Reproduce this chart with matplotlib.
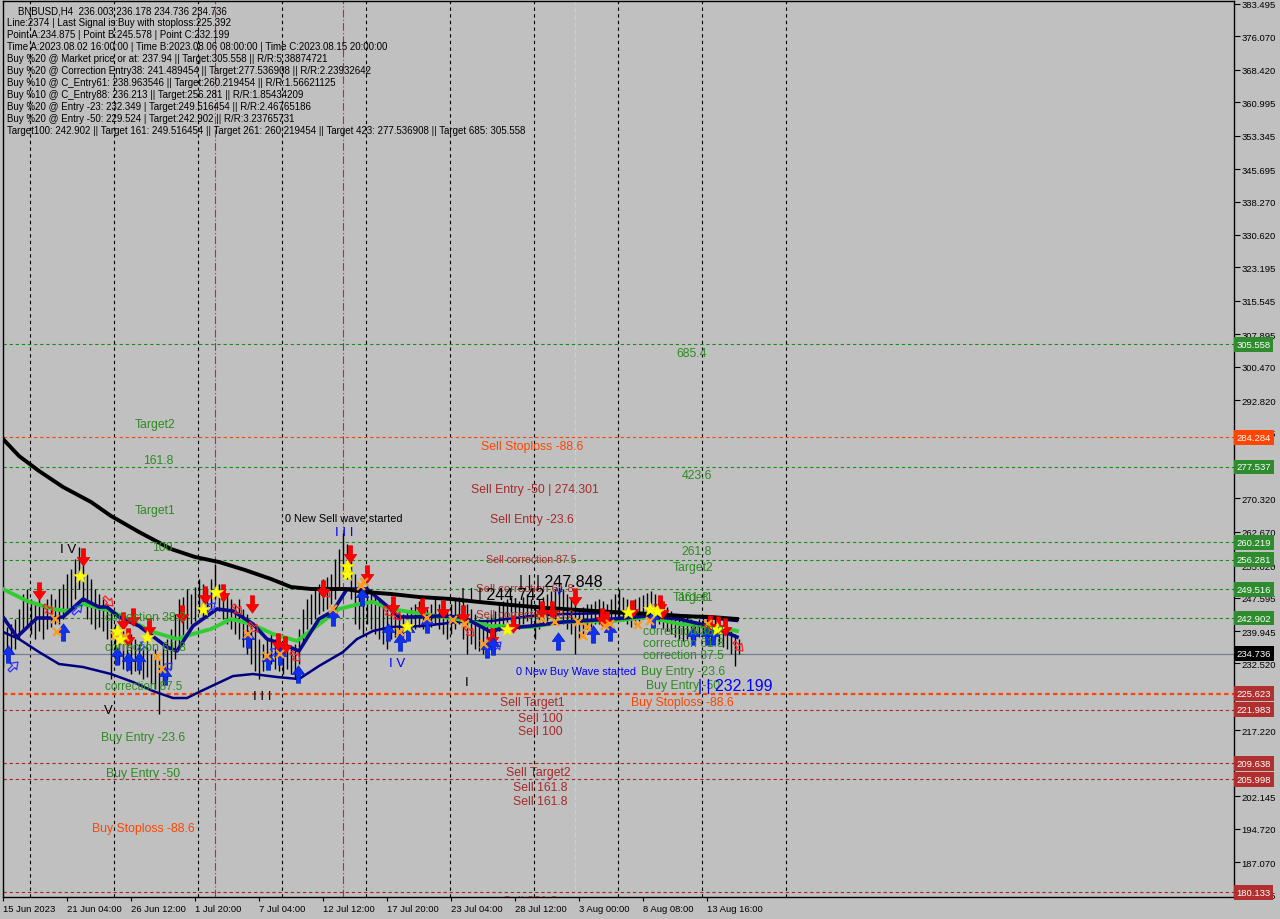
import matplotlib
matplotlib.use('Agg')
import matplotlib.pyplot as plt
from matplotlib.path import Path
from matplotlib.markers import MarkerStyle
from matplotlib.transforms import Affine2D, blended_transform_factory

plt.rcParams['font.family'] = ['Liberation Sans', 'DejaVu Sans']

# ---------------- data ----------------
highs = [240.0, 240.9, 241.6, 242.7, 245.0, 248.4, 249.6, 247.3, 246.6, 247.7,
         246.1, 247.3, 248.4, 247.3, 249.6, 250.7, 253.0, 254.1, 256.4, 259.2,
         255.3, 253.0, 251.9, 249.6, 248.4, 247.3, 246.1, 244.5, 241.6, 240.4,
         240.0, 238.1, 239.3, 238.1, 237.0, 235.8, 236.3, 234.7, 235.8, 233.5,
         237.0, 238.1, 240.4, 243.9, 247.3, 247.7, 249.6, 248.4, 250.0, 251.9,
         250.7, 249.6, 251.9, 255.3, 250.7, 249.6, 248.4, 247.3, 246.1, 247.3,
         245.0, 243.9, 241.6, 240.4, 238.1, 237.0, 238.1, 239.3, 238.1, 237.0,
         236.3, 237.0, 235.8, 237.0, 240.4, 245.0, 247.3, 248.4, 249.6, 250.7,
         251.9, 252.3, 253.0, 256.4, 258.7, 262.5, 259.9, 256.4, 253.0, 250.7,
         249.6, 250.7, 249.6, 248.4, 247.3, 246.1, 245.0, 246.1, 245.0, 244.5,
         243.9, 244.5, 245.4, 246.1, 246.8, 246.1, 245.0, 246.1, 247.3, 246.1,
         245.4, 245.0, 246.1, 247.3, 247.7, 246.8, 246.1, 245.0, 243.9, 242.7,
         241.6, 242.7, 243.9, 244.5, 246.1, 246.8, 247.3, 247.7, 247.3, 246.8,
         247.7, 248.4, 247.3, 246.1, 247.3, 247.7, 248.4, 249.1, 249.6, 250.0,
         249.6, 248.4, 247.3, 246.1, 245.0, 245.4, 246.1, 246.1, 246.8, 247.3,
         246.8, 246.1, 247.3, 248.4, 249.6, 247.7, 247.3, 246.8, 247.3, 247.7,
         248.2, 248.7, 249.1, 248.4, 247.3, 246.1, 245.4, 244.5, 243.9, 243.2,
         242.7, 243.2, 242.7, 242.2, 242.7, 243.2, 242.7, 242.2, 242.7, 241.6,
         240.9, 240.4, 240.0, 239.3, 238.1]
lows = [231.7, 233.1, 234.7, 235.8, 238.1, 240.0, 240.9, 239.3, 238.1, 240.0,
        238.1, 240.4, 240.9, 241.6, 241.6, 242.7, 243.9, 245.4, 247.3, 249.6,
        246.1, 242.7, 241.6, 240.4, 240.9, 240.0, 238.1, 229.0, 233.5, 232.4,
        231.3, 230.8, 230.1, 230.8, 230.1, 229.0, 229.4, 227.8, 226.7, 220.9,
        227.8, 229.0, 231.3, 233.5, 235.8, 238.1, 240.4, 241.6, 242.2, 243.9,
        242.7, 244.5, 245.0, 247.3, 244.5, 242.7, 241.6, 240.4, 239.3, 238.1,
        236.3, 234.7, 232.4, 230.8, 229.0, 230.8, 231.7, 232.4, 231.3, 230.8,
        230.1, 231.3, 230.1, 229.0, 232.4, 237.0, 240.4, 241.6, 242.7, 243.9,
        244.5, 245.0, 246.1, 247.3, 249.6, 253.0, 251.9, 247.3, 241.6, 240.4,
        239.3, 241.6, 240.4, 239.3, 238.1, 237.0, 235.8, 238.1, 238.6, 238.1,
        238.6, 239.3, 240.0, 240.4, 240.9, 240.4, 240.0, 240.9, 241.6, 240.4,
        239.3, 238.1, 239.3, 240.4, 241.6, 238.1, 234.7, 237.0, 235.8, 235.4,
        234.7, 235.8, 237.0, 238.1, 240.0, 240.9, 241.6, 242.2, 240.9, 240.4,
        241.6, 242.2, 240.9, 238.1, 240.4, 241.6, 242.2, 243.2, 242.7, 243.9,
        241.6, 240.4, 239.3, 234.7, 238.1, 239.3, 240.4, 240.9, 241.6, 241.6,
        240.9, 240.4, 241.6, 242.7, 243.2, 242.2, 241.6, 240.9, 241.6, 242.2,
        242.7, 243.2, 243.9, 242.7, 241.6, 240.4, 240.0, 239.3, 238.6, 238.1,
        237.7, 238.1, 238.1, 237.7, 238.6, 239.0, 238.1, 237.7, 238.1, 237.0,
        236.3, 235.8, 234.7, 232.0, 234.7]
bar_index = list(range(0, 2 * len(highs), 2))

# moving averages (bar index, price)
ma_slow_x = [0, 8, 18, 30, 44, 54, 68, 84, 96, 108, 121, 134, 144, 154, 171, 181,
             194, 208, 224, 238, 254, 272, 288, 305, 324, 338, 354, 367]
ma_slow_y = [283.91, 280.02, 276.59, 272.92, 269.49, 266.29, 262.62, 258.73, 256.90,
             255.75, 253.92, 251.86, 250.03, 249.57, 249.57, 248.88, 248.43, 247.74,
             247.28, 246.60, 245.91, 245.22, 244.76, 244.30, 243.85, 243.39, 243.16, 242.70]
ma_green_x = [0, 12, 25, 32, 40, 54, 65, 75, 87, 95, 104, 114, 124, 135, 147, 157, 168,
              178, 185, 194, 210, 227, 244, 248, 264, 280, 305, 322, 338, 355, 367]
ma_green_y = [249.57, 246.82, 244.99, 244.53, 246.14, 244.53, 242.02, 239.73, 238.12,
              239.27, 240.41, 242.70, 241.56, 239.27, 237.67, 241.10, 244.99, 246.14,
              246.60, 244.99, 243.85, 242.70, 241.10, 241.10, 240.87, 242.02, 242.24,
              243.16, 241.56, 241.10, 239.96]
ma_fast_x = [0, 7, 17, 25, 30, 40, 48, 52, 58, 68, 82, 87, 95, 107, 115, 125, 132, 142,
             148, 158, 165, 172, 182, 192, 198, 205, 218, 230, 244, 248, 264, 280, 305,
             322, 338, 355, 367]
ma_fast_y = [243.16, 238.58, 242.93, 242.93, 243.16, 247.28, 245.45, 245.45, 243.16,
             241.10, 236.29, 235.38, 241.10, 244.99, 244.53, 241.56, 238.12, 236.52,
             235.38, 242.70, 244.53, 249.57, 249.57, 245.68, 243.16, 243.16, 243.39,
             243.16, 239.73, 240.41, 241.10, 242.02, 242.70, 243.39, 242.70, 240.87, 238.58]
ma_low_x = [0, 8, 18, 28, 40, 54, 65, 75, 85, 92, 98, 115, 125, 137, 148, 158, 170, 177,
            185, 194, 210, 227, 244, 264, 280, 305, 338, 367]
ma_low_y = [239.73, 238.12, 235.14, 232.40, 231.71, 230.11, 228.27, 226.21, 224.61,
            224.61, 225.98, 229.64, 230.11, 229.42, 228.96, 231.94, 235.14, 238.12,
            239.96, 240.87, 241.10, 242.02, 242.24, 243.39, 243.85, 244.07, 243.62, 242.24]

# signals (bar index, price)
sell_x = [18, 40, 60, 62.5, 65, 73, 89.5, 101, 110, 124.5, 137.5, 141, 160, 173.5, 182,
          195, 209.5, 220, 230, 244.5, 255, 269.5, 274.5, 286, 299.5, 302, 314.5, 328.5,
          329.5, 353.5, 357.5, 361]
sell_y = [249.11, 256.90, 242.24, 238.58, 243.16, 240.87, 243.85, 248.20, 248.66, 246.14,
          237.44, 236.75, 249.57, 257.59, 253.01, 245.91, 245.45, 244.99, 243.85, 238.58,
          241.56, 244.76, 244.76, 247.74, 243.16, 242.47, 244.99, 246.14, 244.76, 241.56,
          241.33, 240.87]
buy_x = [2.5, 30, 57, 62.5, 68, 81, 122.5, 132.5, 138.5, 147.5, 165, 179.5, 192.5, 198.5,
         202.5, 212, 242, 245, 277.5, 295, 303.5, 325, 345, 352, 355]
buy_y = [234.69, 239.73, 234.23, 233.08, 233.08, 229.65, 238.12, 233.08, 234.23, 230.11,
         243.16, 247.74, 239.73, 237.44, 239.73, 241.56, 235.83, 236.52, 237.67, 239.27,
         239.73, 242.70, 238.81, 238.81, 238.81]
star_x = [38.5, 57, 58.5, 72, 100, 106.5, 172, 172, 202, 252, 312.5, 323.5, 327, 357]
star_y = [252.55, 239.96, 238.12, 238.58, 244.99, 248.88, 254.84, 253.01, 241.10, 240.41,
          244.30, 244.99, 244.53, 240.41]
cross_x = [26, 27, 56, 61, 77, 79.5, 122.5, 132, 138.5, 165, 179, 180.5, 198.5, 212, 225,
           231, 240.5, 269.5, 276, 287.5, 290, 292, 301, 303.5, 317.5, 323.5, 352.5]
cross_y = [242.70, 239.73, 238.81, 238.58, 233.99, 231.25, 239.27, 234.23, 234.69, 244.99,
           250.26, 251.17, 239.73, 242.93, 242.47, 241.56, 236.98, 242.70, 242.02, 242.02,
           238.81, 240.87, 241.10, 241.56, 241.33, 242.24, 241.56]
hsell_x = [22.5, 52.5, 117, 125, 146, 161, 192.5, 196.5, 233, 367.5]
hsell_y = [244.99, 246.82, 244.99, 240.87, 234.23, 248.88, 244.53, 243.62, 239.96, 236.52]
hbuy_x = [5, 37, 70, 82, 103.5, 135, 246.5]
hbuy_y = [231.94, 244.99, 236.75, 231.71, 245.45, 235.14, 236.52]

# levels
level_prices = [305.558, 284.284, 277.537, 260.219, 256.281, 249.516, 242.902,
                225.623, 221.983, 209.638, 205.998, 180.133]
level_kinds = ['target', 'stop', 'target', 'target', 'target', 'target', 'target',
               'stopb', 'sell', 'sell', 'sell', 'sell']
current_price = 234.736

ytick_values = [383.495, 376.070, 368.420, 360.995, 353.345, 345.695, 338.270, 330.620,
                323.195, 315.545, 307.895, 300.470, 292.820, 285.395, 270.320,
                262.670, 255.020, 247.595, 239.945, 232.520, 217.220,
                202.145, 194.720, 187.070, 179.645]
xtick_index = [0, 32, 64, 96, 128, 160, 192, 224, 256, 288, 320, 352]
xtick_labels = ['15 Jun 2023', '21 Jun 04:00', '26 Jun 12:00', '1 Jul 20:00', '7 Jul 04:00',
                '12 Jul 12:00', '17 Jul 20:00', '23 Jul 04:00', '28 Jul 12:00',
                '3 Aug 00:00', '8 Aug 08:00', '13 Aug 16:00']
week_lines = [13.5, 55.5, 97.5, 139.5, 181.5, 223.5, 265.5, 307.5, 349.5, 391.5]
magenta_lines = [106, 170]
cyan_lines = [286]

info_lines = [
    '    BNBUSD,H4  236.003 236.178 234.736 234.736',
    'Line:2374 | Last Signal is:Buy with stoploss:225.392',
    'Point A:234.875 | Point B:245.578 | Point C:232.199',
    'Time A:2023.08.02 16:00:00 | Time B:2023.08.06 08:00:00 | Time C:2023.08.15 20:00:00',
    'Buy %20 @ Market price or at: 237.94 || Target:305.558 || R/R:5.38874721',
    'Buy %20 @ Correction Entry38: 241.489454 || Target:277.536908 || R/R:2.23932642',
    'Buy %10 @ C_Entry61: 238.963546 || Target:260.219454 || R/R:1.56621125',
    'Buy %10 @ C_Entry88: 236.213 || Target:256.281 || R/R:1.85434209',
    'Buy %20 @ Entry -23: 232.349 | Target:249.516454 || R/R:2.46765186',
    'Buy %20 @ Entry -50: 229.524 | Target:242.902 || R/R:3.23765731',
    'Target100: 242.902 || Target 161: 249.516454 || Target 261: 260.219454 || Target 423: 277.536908 || Target 685: 305.558',
]

labels = [
    (76, 287.35, 'Target2', 'g', 8.8), (77.5, 279.10, '161.8', 'g', 8.8),
    (76, 267.66, 'Target1', 'g', 8.8), (79.5, 259.19, '100', 'g', 8.8),
    (71, 243.16, 'correction 38.2', 'g', 8.8), (71, 236.29, 'correction 61.8', 'g', 8.8),
    (70.5, 227.37, 'correction 87.5', 'g', 8.4), (70, 215.69, 'Buy Entry -23.6', 'g', 8.8),
    (70, 207.45, 'Buy Entry -50', 'g', 8.8), (70, 194.86, 'Buy Stoploss -88.6', 'o', 8.8),
    (52.5, 221.87, 'V', 'k', 9.5), (32.5, 258.73, 'I V', 'k', 9.5),
    (129.5, 225.07, 'I I I', 'k', 9.5),
    (170.5, 265.82, '0 New Sell wave started', 'k', 7.8),
    (170.5, 262.62, 'I I I', 'b', 9.5), (197, 232.63, 'I V', 'b', 9.5), (232, 228.27, 'I', 'k', 9.5),
    (264.5, 282.31, 'Sell Stoploss -88.6', 'o', 8.8),
    (266, 272.46, 'Sell Entry -50 | 274.301', 'r', 8.8),
    (264.5, 265.59, 'Sell Entry -23.6', 'r', 8.8),
    (264, 256.44, 'Sell correction 87.5', 'r', 7.6),
    (261, 249.80, 'Sell correction 61.8', 'r', 8.2),
    (261, 243.85, 'Sell correction 38.2', 'r', 8.2),
    (279, 251.40, '| | | 247.848', 'k', 11.5),
    (250, 248.20, '| | | 244.742', 'k', 11.5),
    (278, 249.11, 'V', 'b', 7),
    (286.5, 230.80, '0 New Buy Wave started', 'b', 7.8),
    (264.5, 223.70, 'Sell Target1', 'r', 8.8),
    (268.5, 220.04, 'Sell 100', 'r', 8.8), (268.5, 217.06, 'Sell 100', 'r', 8.8),
    (267.5, 207.68, 'Sell Target2', 'r', 8.8),
    (268.5, 204.25, 'Sell 161.8', 'r', 8.8), (268.5, 201.04, 'Sell 161.8', 'r', 8.8),
    (263.5, 178.15, 'Sell 261.8', 'r', 8.8),
    (344.5, 303.60, '685.4', 'g', 8.8), (347, 275.67, '423.6', 'g', 8.8),
    (347, 258.27, '261.8', 'g', 8.8), (345, 254.60, 'Target2', 'g', 8.8),
    (345, 247.74, 'Target1', 'g', 8.8), (345, 247.74, '161.8', 'g', 8.8),
    (340, 239.95, 'correction 38.2', 'g', 8.8), (348.5, 240.1, '100', 'g', 8.8),
    (340, 237.21, 'correction 61.8', 'g', 8.8), (340, 234.46, 'correction 87.5', 'g', 8.8),
    (340, 230.80, 'Buy Entry -23.6', 'g', 8.8), (340, 227.59, 'Buy Entry -50', 'g', 8.8),
    (366, 227.37, '| | 232.199', 'b', 11.5),
    (339.5, 223.70, 'Buy Stoploss -88.6', 'o', 8.8),
]

# ---------------- style ----------------
BG = '#C0C0C0'
text_colors = {'g': '#2E8B22', 'r': '#A52A2A', 'o': '#FF4500', 'k': '#000000', 'b': '#0000FF'}
level_styles = {
    'target': dict(color='#1E8B1E', lw=0.8, ls=(0, (3, 2.5))),
    'stop': dict(color='#FF4500', lw=0.8, ls=(0, (3, 2.5))),
    'stopb': dict(color='#FF4500', lw=1.6, ls=(0, (2, 1.5))),
    'sell': dict(color='#A52A2A', lw=0.8, ls=(0, (3, 2.5))),
}
box_colors = {'target': '#2E8B2E', 'stop': '#FF4500', 'stopb': '#B03030', 'sell': '#B03030'}

fig = plt.figure(figsize=(12.8, 9.2), dpi=100, facecolor=BG)
ax = fig.add_axes([2.5 / 1280, 22 / 920, (1234 - 2.5) / 1280, 896 / 920], facecolor=BG)
ax.set_xlim(-0.25, 615.5)
ax.set_ylim(179.06, 384.18)

for v in week_lines:
    ax.axvline(v, color='black', lw=0.8, ls=(0, (3, 3)), zorder=1)
for v in magenta_lines:
    ax.axvline(v, color='#C8148C', lw=0.8, ls=(0, (7, 2, 1, 2)), zorder=1)
for v in cyan_lines:
    ax.axvline(v, color='#A8DCE8', lw=0.9, ls=(0, (4, 2)), zorder=1)

for p, k in zip(level_prices, level_kinds):
    st = level_styles[k]
    ax.axhline(p, color=st['color'], lw=st['lw'], ls=st['ls'], zorder=1.5)
ax.axhline(current_price, color='#708090', lw=0.9, zorder=1.5)

ax.vlines(bar_index, lows, highs, color='black', lw=1.0, zorder=2)

ax.plot(ma_low_x, ma_low_y, color='#000080', lw=1.8, zorder=3, solid_joinstyle='round')
ax.plot(ma_green_x, ma_green_y, color='#32CD32', lw=2.8, zorder=3.1, solid_joinstyle='round')
ax.plot(ma_fast_x, ma_fast_y, color='#0A0A8A', lw=2.6, zorder=3.2, solid_joinstyle='round')
ax.plot(ma_slow_x, ma_slow_y, color='black', lw=2.8, zorder=3.3, solid_joinstyle='round')

down_arrow = Path([(-0.24, 1), (0.24, 1), (0.24, 0.0), (0.72, 0.0), (0, -1),
                   (-0.72, 0.0), (-0.24, 0.0), (-0.24, 1)], closed=True)
up_arrow = Path([(x, -y) for x, y in down_arrow.vertices], closed=True)

ax.plot(sell_x, sell_y, ls='none', marker=down_arrow, ms=12.5, mfc='#FF0000', mec='#E00000',
        mew=0.5, zorder=5)
ax.plot(buy_x, buy_y, ls='none', marker=up_arrow, ms=12.5, mfc='#1030F0', mec='#0020C0',
        mew=0.5, zorder=5)
ax.plot(star_x, star_y, ls='none', marker='*', ms=10, mfc='#FFFF00', mec='#E8E800',
        mew=0.5, zorder=5.2)
ax.plot(cross_x, cross_y, ls='none', marker='x', ms=5.5, mec='#FF9A1A', mew=1.6, zorder=5.1)
ax.plot(hsell_x, hsell_y, ls='none',
        marker=MarkerStyle(down_arrow, transform=Affine2D().rotate_deg(45)),
        ms=9, mfc='none', mec='#FF2020', mew=0.9, zorder=4.5)
ax.plot(hbuy_x, hbuy_y, ls='none',
        marker=MarkerStyle(up_arrow, transform=Affine2D().rotate_deg(-45)),
        ms=9, mfc='none', mec='#3030FF', mew=0.9, zorder=4.5)

for x, y, t, c, s in labels:
    ax.text(x, y, t, color=text_colors[c], fontsize=s, ha='center', va='center',
            zorder=6, clip_on=True)

# axes
for sp in ax.spines.values():
    sp.set_color('black')
    sp.set_linewidth(1.0)
ax.yaxis.tick_right()
ax.set_yticks(ytick_values)
ax.set_yticklabels([f'{v:.3f}' for v in ytick_values])
ax.tick_params(axis='y', direction='out', length=4, width=0.8, labelsize=6.8, pad=1.5,
               colors='black')
ax.set_xticks(xtick_index)
ax.set_xticklabels(xtick_labels)
for lbl in ax.get_xticklabels():
    lbl.set_ha('left')
ax.tick_params(axis='x', direction='out', length=3, width=0.8, labelsize=6.8, pad=2,
               colors='black')

trans = blended_transform_factory(ax.transAxes, ax.transData)
for p, k in zip(level_prices, level_kinds):
    ax.text(1.0020, p, f'{p:.3f}', transform=trans, fontsize=6.8, color='white',
            ha='left', va='center', zorder=10, clip_on=False,
            bbox=dict(boxstyle='square,pad=0.3', fc=box_colors[k], ec='none'))
ax.text(1.0020, current_price, f'{current_price:.3f}', transform=trans, fontsize=6.8,
        color='white', ha='left', va='center', zorder=10, clip_on=False,
        bbox=dict(boxstyle='square,pad=0.3', fc='black', ec='none'))

for n, line in enumerate(info_lines):
    fig.text(7 / 1280, 1 - (11 + 12 * n) / 920, line, fontsize=7.0, color='black',
             ha='left', va='center')

fig.savefig('out.png', dpi=100, facecolor=BG)
